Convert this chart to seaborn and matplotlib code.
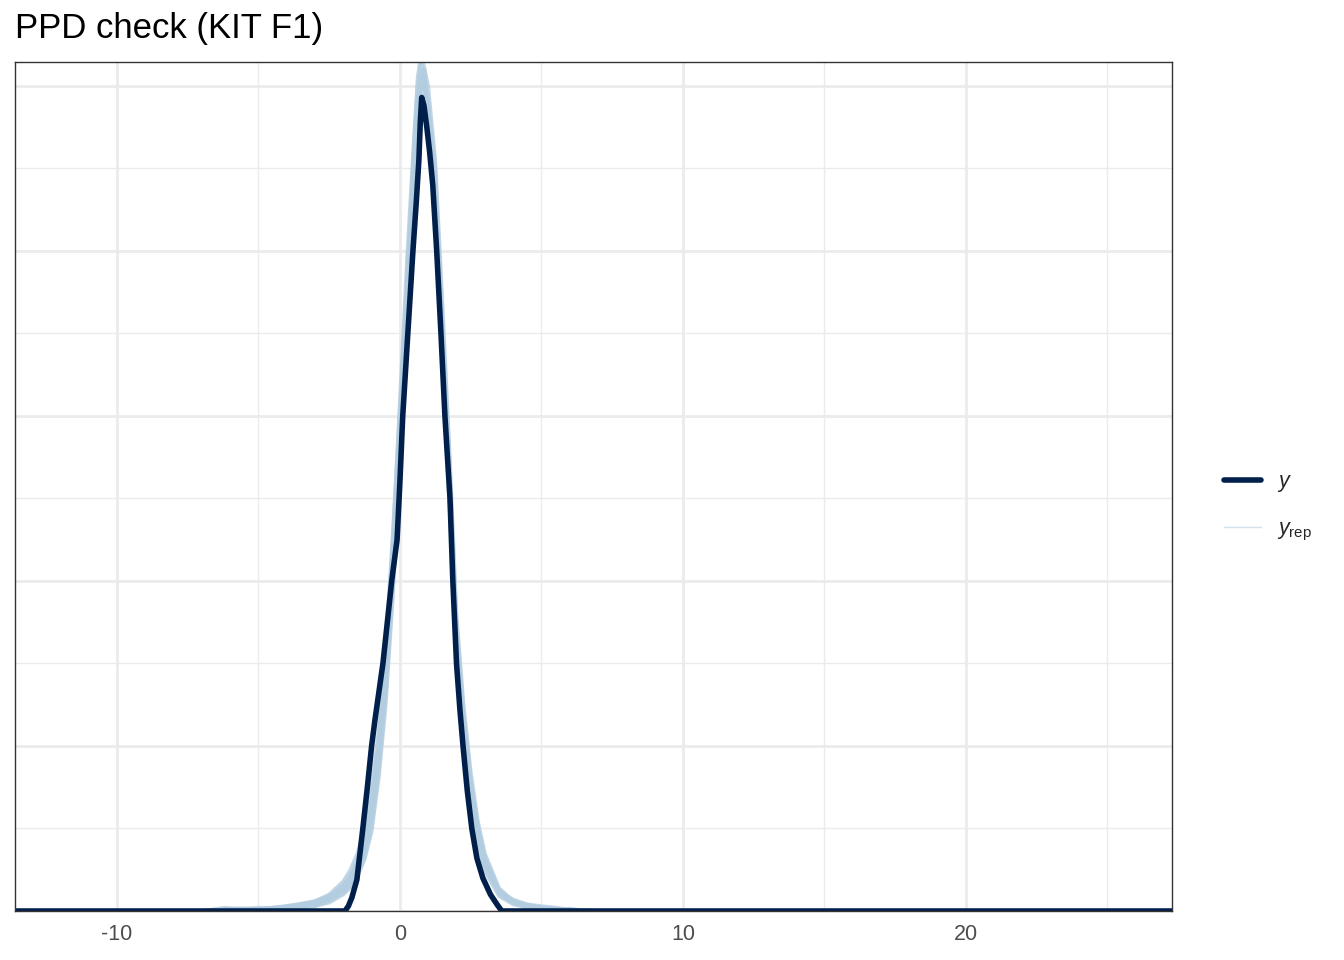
import numpy as np
import pandas as pd
import matplotlib
matplotlib.use("Agg")
import matplotlib.pyplot as plt
from matplotlib.lines import Line2D
import seaborn as sns

y_x = [-13.6, -2.2, -1.94, -1.82, -1.7, -1.52, -1.31, -1.15, -1.0, -0.88, -0.6, -0.29, -0.1, 0.0,
       0.1, 0.28, 0.46, 0.58, 0.67, 0.72, 0.77, 0.85, 0.95, 1.05, 1.16, 1.3, 1.45, 1.59, 1.77,
       1.87, 2.0, 2.12, 2.23, 2.38, 2.54, 2.72, 2.93, 3.2, 3.43, 3.6, 27.3]
y_d = [0.0, 0.0, 0.0, 0.003, 0.008, 0.019, 0.05, 0.075, 0.1, 0.116, 0.15, 0.2, 0.225, 0.26,
       0.3, 0.35, 0.4, 0.43, 0.455, 0.478, 0.493, 0.488, 0.475, 0.46, 0.44, 0.4, 0.35, 0.3, 0.25,
       0.2, 0.15, 0.122, 0.1, 0.073, 0.05, 0.032, 0.02, 0.01, 0.004, 0.0, 0.0]

# replicated densities (yrep), shared x grid
rep_x = [-7.0, -6.2, -5.0, -4.0, -3.0, -2.5, -2.0, -1.75, -1.5, -1.25, -1.0, -0.75, -0.5,
         -0.25, 0.0, 0.25, 0.5, 0.625, 0.75, 0.875, 1.0, 1.25, 1.5, 1.75, 2.0, 2.25, 2.5,
         2.75, 3.0, 3.5, 4.0, 4.5, 5.0, 6.0, 7.0]
rep1 = [0, 0.000, 0.001, 0.002, 0.004, 0.007, 0.013, 0.018, 0.026, 0.038, 0.058, 0.095, 0.14,
        0.21, 0.29, 0.37, 0.45, 0.49, 0.51, 0.505, 0.49, 0.44, 0.34, 0.26, 0.16, 0.11, 0.07,
        0.045, 0.028, 0.010, 0.005, 0.003, 0.002, 0.001, 0]
rep2 = [0, 0.001, 0.001, 0.003, 0.006, 0.009, 0.016, 0.022, 0.031, 0.045, 0.068, 0.105, 0.155,
        0.225, 0.31, 0.395, 0.47, 0.505, 0.52, 0.51, 0.48, 0.42, 0.33, 0.245, 0.155, 0.10, 0.065,
        0.04, 0.024, 0.009, 0.004, 0.002, 0.001, 0.000, 0]
rep3 = [0, 0, 0.000, 0.001, 0.003, 0.005, 0.010, 0.014, 0.021, 0.031, 0.048, 0.08, 0.125,
        0.19, 0.27, 0.355, 0.435, 0.475, 0.498, 0.50, 0.49, 0.45, 0.36, 0.275, 0.175, 0.12, 0.08,
        0.052, 0.033, 0.013, 0.006, 0.004, 0.003, 0.001, 0]
rep4 = [0, 0.002, 0.001, 0.002, 0.005, 0.008, 0.014, 0.020, 0.028, 0.040, 0.062, 0.10, 0.15,
        0.22, 0.30, 0.385, 0.465, 0.50, 0.515, 0.50, 0.475, 0.43, 0.335, 0.25, 0.158, 0.105, 0.068,
        0.043, 0.026, 0.011, 0.006, 0.003, 0.001, 0.001, 0]
rep5 = [0, 0, 0.001, 0.003, 0.005, 0.009, 0.015, 0.020, 0.029, 0.042, 0.062, 0.098, 0.145,
        0.212, 0.29, 0.365, 0.44, 0.475, 0.492, 0.495, 0.485, 0.445, 0.35, 0.27, 0.17, 0.118, 0.078,
        0.05, 0.031, 0.012, 0.005, 0.002, 0.001, 0.000, 0]
rep6 = [0, 0, 0.000, 0.002, 0.006, 0.010, 0.018, 0.025, 0.035, 0.05, 0.075, 0.11, 0.16,
        0.23, 0.305, 0.38, 0.455, 0.49, 0.505, 0.50, 0.485, 0.435, 0.345, 0.26, 0.162, 0.108, 0.07,
        0.046, 0.029, 0.012, 0.007, 0.004, 0.002, 0.001, 0]
rep7 = [0, 0, 0.001, 0.001, 0.003, 0.006, 0.011, 0.015, 0.022, 0.033, 0.05, 0.085, 0.13,
        0.195, 0.275, 0.355, 0.44, 0.48, 0.50, 0.51, 0.50, 0.455, 0.37, 0.28, 0.18, 0.125, 0.085,
        0.055, 0.035, 0.014, 0.006, 0.003, 0.002, 0.001, 0]
rep8 = [0, 0.001, 0.002, 0.002, 0.004, 0.007, 0.012, 0.017, 0.025, 0.037, 0.056, 0.092, 0.138,
        0.205, 0.285, 0.365, 0.445, 0.48, 0.50, 0.497, 0.487, 0.44, 0.34, 0.258, 0.165, 0.112, 0.074,
        0.048, 0.03, 0.011, 0.005, 0.003, 0.002, 0.000, 0]
reps = [rep1, rep2, rep3, rep4, rep5, rep6, rep7, rep8]

x_ticks = [-10, 0, 10, 20]

sns.set_style("white")
plt.rcParams["font.family"] = ["Liberation Sans", "DejaVu Sans"]
plt.rcParams["mathtext.fontset"] = "custom"
plt.rcParams["mathtext.it"] = "Liberation Sans:italic"
plt.rcParams["mathtext.rm"] = "Liberation Sans"
plt.rcParams["axes.unicode_minus"] = False

rep_df = pd.DataFrame({
    "x": np.tile(rep_x, len(reps)),
    "d": np.concatenate(reps),
    "draw": np.repeat(np.arange(len(reps)), len(rep_x)),
})
y_df = pd.DataFrame({"x": y_x, "d": y_d})

fig = plt.figure(figsize=(13.44, 9.6), dpi=100)
ax = fig.add_axes([15 / 1344, 1 - 911 / 960, (1172 - 15) / 1344, (911 - 62) / 960])

sns.lineplot(data=rep_df, x="x", y="d", units="draw", estimator=None, color="#b3cde0",
             alpha=0.8, lw=2.6, ax=ax, legend=False, solid_joinstyle="round")
sns.lineplot(data=y_df, x="x", y="d", color="#011f4b", lw=4.0, ax=ax, legend=False,
             solid_capstyle="round", solid_joinstyle="round")

ax.set_xlim(-13.6, 27.28)
ax.set_ylim(0, 0.5145)
ax.set_xticks(x_ticks)
ax.set_xticks([-5, 5, 15, 25], minor=True)
ax.set_yticks([0, 0.1, 0.2, 0.3, 0.4, 0.5])
ax.set_yticks([0.05, 0.15, 0.25, 0.35, 0.45], minor=True)
ax.grid(True, which="major", color="#ebebeb", lw=2.0)
ax.grid(True, which="minor", color="#ebebeb", lw=1.0)
ax.set_axisbelow(True)
ax.tick_params(axis="x", which="major", length=4.5, width=1.1, color="#333333",
               labelsize=15.5, labelcolor="#4d4d4d", pad=5)
ax.tick_params(axis="x", which="minor", length=0)
ax.tick_params(axis="y", which="both", length=0, labelleft=False)
ax.set_xlabel("")
ax.set_ylabel("")
for s in ax.spines.values():
    s.set_color("#333333")
    s.set_linewidth(1.0)

fig.text(15 / 1344, 1 - 38 / 960, "PPD check (KIT F1)", fontsize=25, color="black",
         ha="left", va="baseline")

handles = [Line2D([], [], color="#011f4b", lw=4.0, solid_capstyle="round"),
           Line2D([], [], color="#d1e1ec", lw=1.0)]
fig.legend(handles, ["$y$", "$y_{\\mathrm{rep}}$"], loc="center left",
           bbox_to_anchor=(1205 / 1344, 1 - 507 / 960), frameon=False, fontsize=15.5,
           handlelength=1.7, handletextpad=0.75, labelspacing=1.1)

fig.savefig("out.png", dpi=100)
